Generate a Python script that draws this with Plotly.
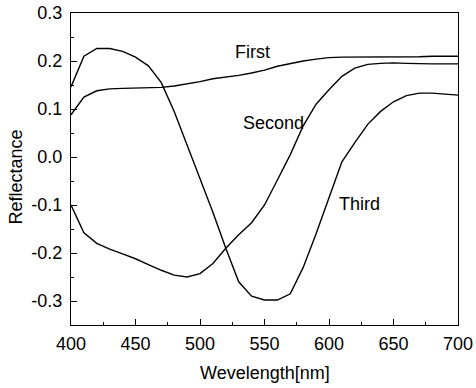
import plotly.graph_objects as go

wavelength = [400, 410, 420, 430, 440, 450, 460, 470, 480, 490, 500, 510, 520, 530, 540, 550,
              560, 570, 580, 590, 600, 610, 620, 630, 640, 650, 660, 670, 680, 690, 700]

first = [0.088, 0.125, 0.138, 0.142, 0.143, 0.144, 0.144, 0.145, 0.148, 0.152, 0.157, 0.163,
         0.166, 0.170, 0.175, 0.181, 0.189, 0.195, 0.200, 0.204, 0.207, 0.208, 0.208, 0.208,
         0.208, 0.209, 0.209, 0.209, 0.210, 0.210, 0.210]

third = [0.146, 0.210, 0.226, 0.226, 0.220, 0.208, 0.190, 0.155, 0.095, 0.025, -0.045, -0.115,
         -0.190, -0.260, -0.290, -0.298, -0.298, -0.285, -0.230, -0.160, -0.085, -0.010, 0.030,
         0.068, 0.095, 0.115, 0.128, 0.133, 0.133, 0.131, 0.129]

second = [-0.100, -0.158, -0.180, -0.192, -0.202, -0.212, -0.224, -0.236, -0.246, -0.250, -0.243,
          -0.222, -0.190, -0.162, -0.137, -0.100, -0.048, 0.005, 0.065, 0.110, 0.140, 0.168,
          0.185, 0.193, 0.195, 0.196, 0.195, 0.194, 0.194, 0.194, 0.194]

labels = ["First", "Second", "Third"]
label_x = [541, 557, 624]
label_y = [0.219, 0.071, -0.098]

x_ticks = [400, 450, 500, 550, 600, 650, 700]
y_ticks = [-0.3, -0.2, -0.1, 0.0, 0.1, 0.2, 0.3]
y_ticktext = ["-0.3", "-0.2", "-0.1", "0.0", "0.1", "0.2", "0.3"]

FONT = "Liberation Sans, Arial"
FS = 18

fig = go.Figure()
for ys in (first, third, second):
    fig.add_trace(go.Scatter(x=wavelength, y=ys, mode="lines",
                             line=dict(color="black", width=1.4), showlegend=False,
                             hoverinfo="skip"))

for t, xx, yy in zip(labels, label_x, label_y):
    fig.add_annotation(x=xx, y=yy, text=t, showarrow=False,
                       font=dict(family=FONT, size=FS, color="black"))

fig.add_annotation(xref="paper", yref="paper", x=0.501, y=-0.154, text="Wevelength[nm]",
                   showarrow=False, xanchor="center", yanchor="middle",
                   font=dict(family=FONT, size=FS, color="black"))
fig.add_annotation(xref="paper", yref="paper", x=-0.142, y=0.473, text="Reflectance",
                   textangle=-90, showarrow=False, xanchor="center", yanchor="middle",
                   font=dict(family=FONT, size=FS, color="black"))

axis_common = dict(showgrid=False, zeroline=False, showline=True, linecolor="black",
                   linewidth=1.3, mirror=True, ticks="inside", ticklen=6, tickwidth=1.3,
                   tickcolor="black", automargin=False,
                   tickfont=dict(family=FONT, size=FS, color="black"),
                   minor=dict(ticks="inside", ticklen=3, tickwidth=1, tickcolor="black"))

fig.update_xaxes(range=[400, 700], tickvals=x_ticks, minor_dtick=25, ticklabelstandoff=2,
                 **axis_common)
fig.update_yaxes(range=[-0.35, 0.3], tickvals=y_ticks, ticktext=y_ticktext, minor_dtick=0.05,
                 ticklabelstandoff=4, **axis_common)

fig.update_layout(width=476, height=388, margin=dict(l=71, r=18, t=13, b=63),
                  plot_bgcolor="white", paper_bgcolor="white")

fig.write_html("out.html", config={"displayModeBar": False},
               post_script="document.body.style.margin='0px';document.body.style.overflow='hidden';")
